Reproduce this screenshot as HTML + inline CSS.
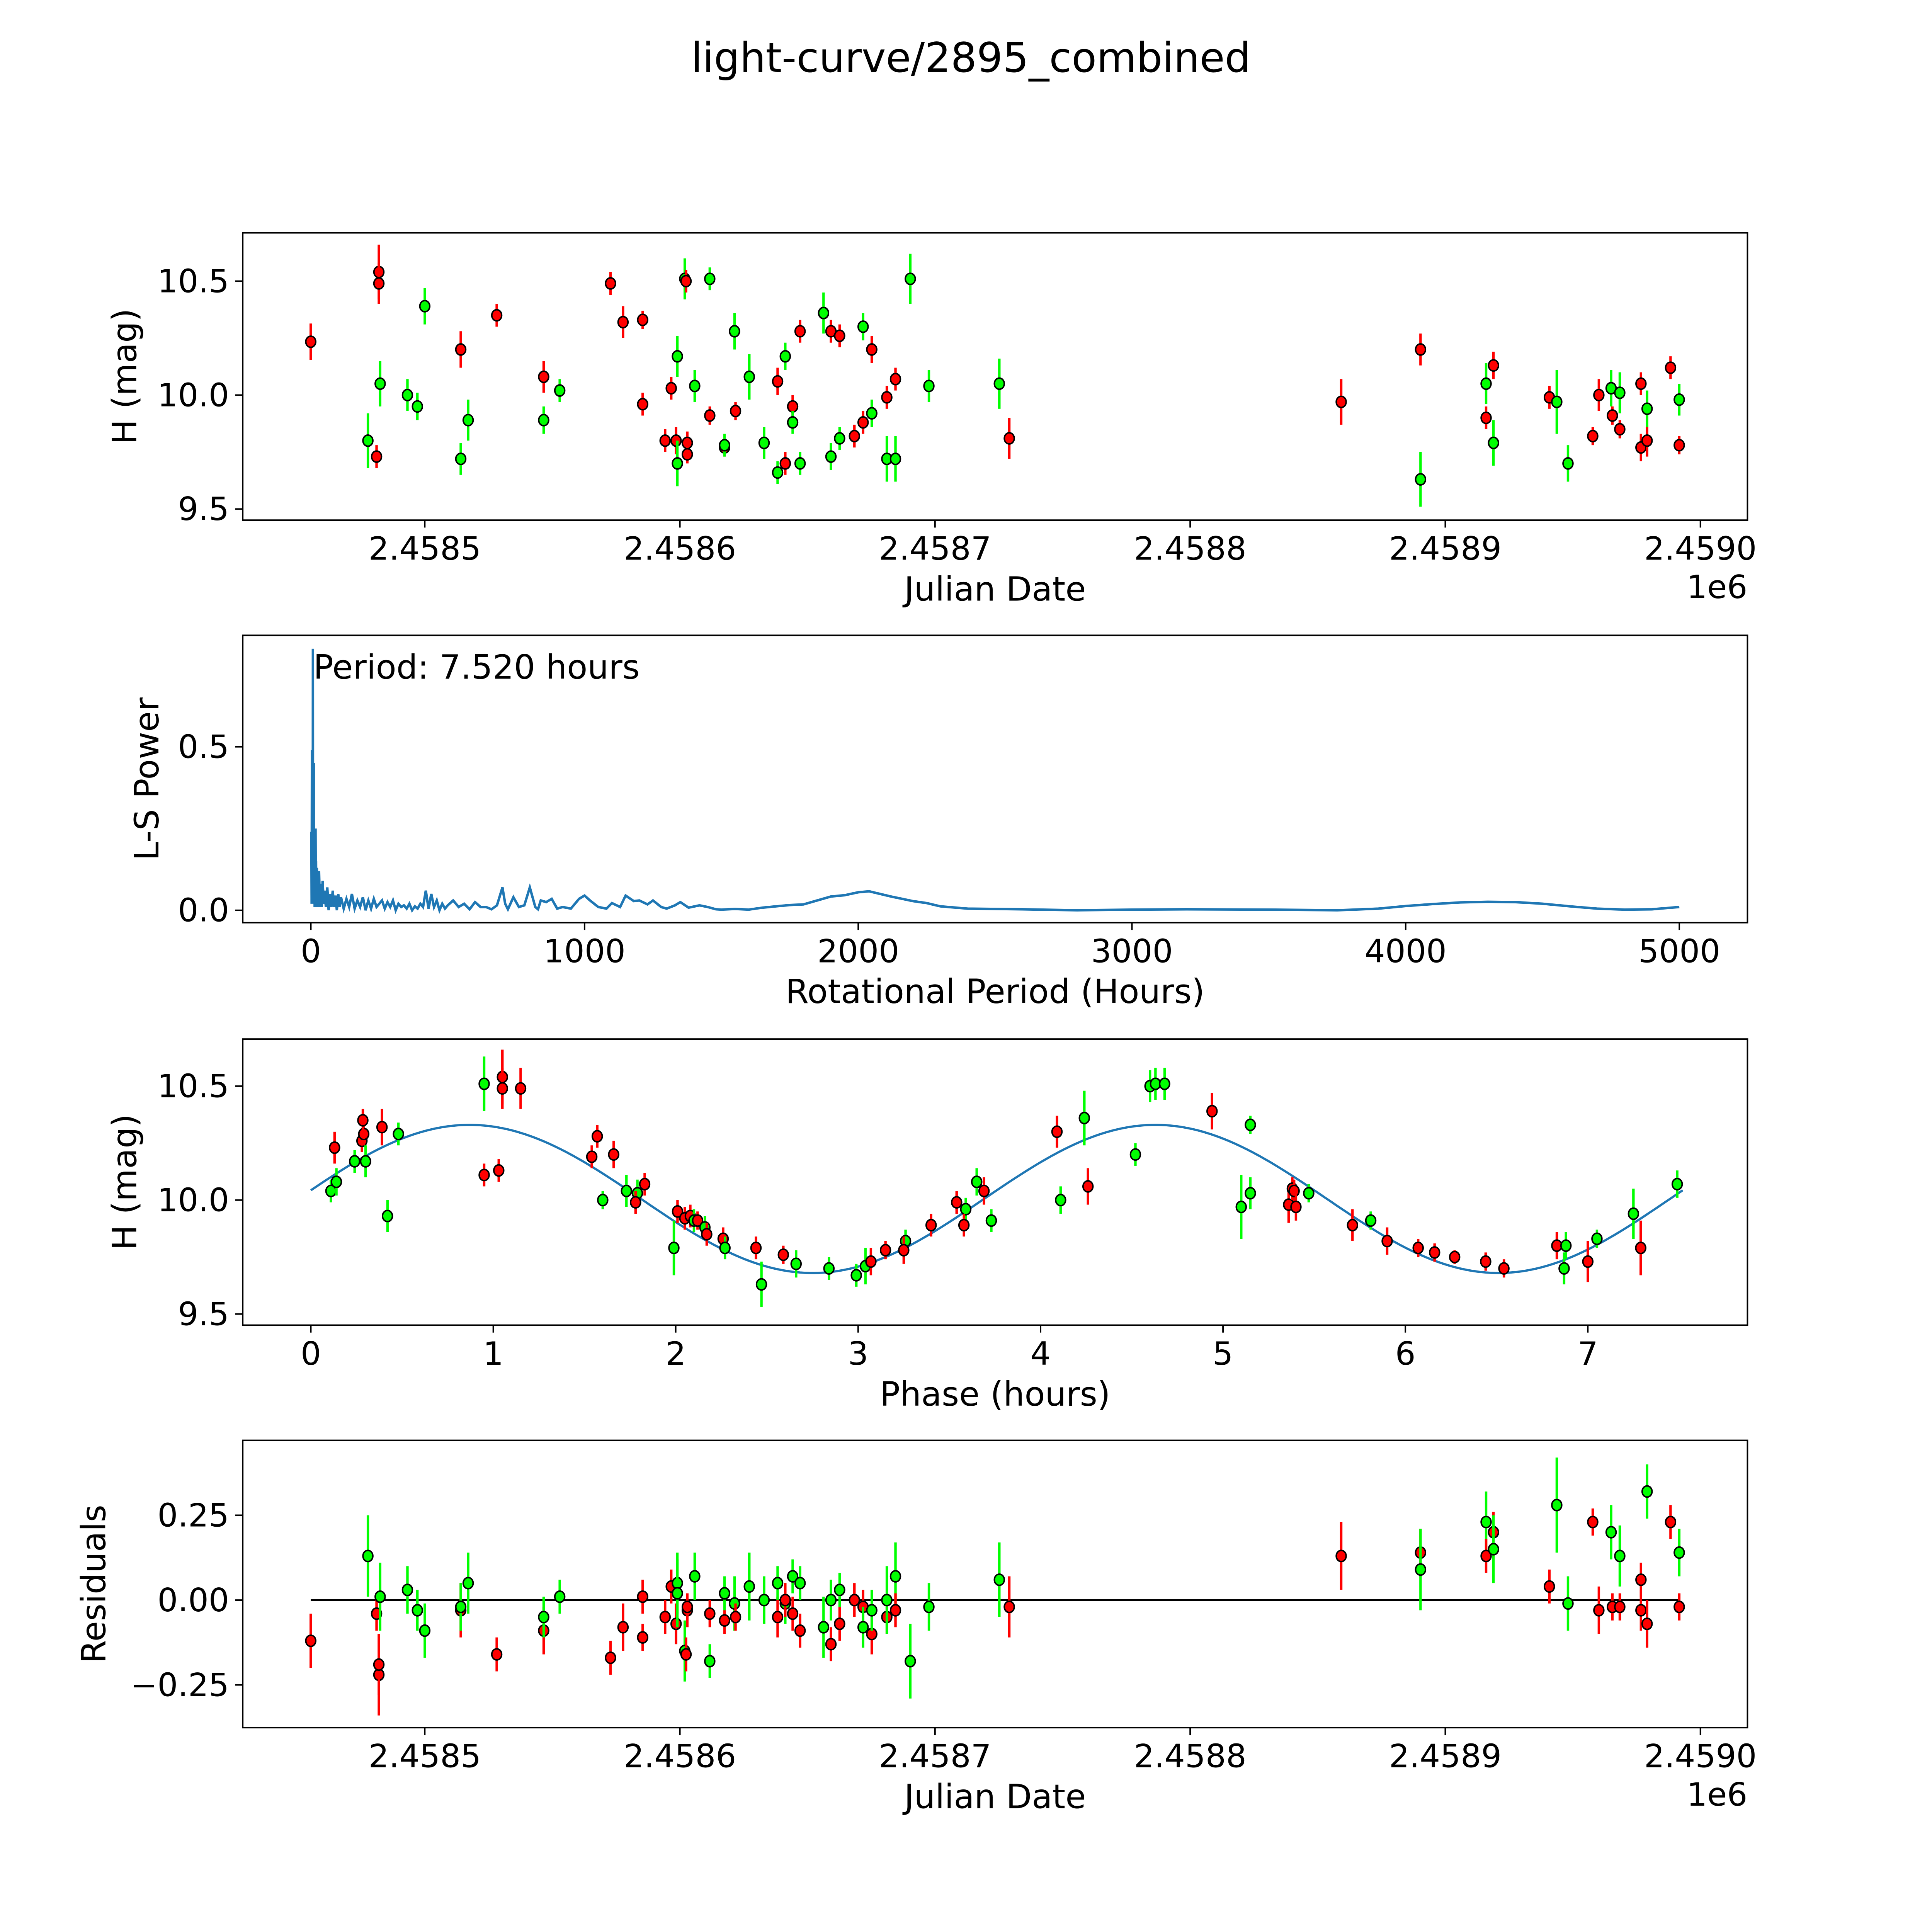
<!DOCTYPE html>
<html><head><meta charset="utf-8"><meta name="viewport" content="width=5400">
<style>
html,body{margin:0;padding:0;background:#fff;width:100vw;height:100vh;overflow:hidden}
svg{display:block;width:100vw;height:100vh}
text{font-family:"DejaVu Sans","Liberation Sans",sans-serif;fill:#000}
</style></head><body>
<svg id="fig" viewBox="0 0 1560 1560" preserveAspectRatio="xMinYMin meet" xmlns="http://www.w3.org/2000/svg">
<rect width="1560" height="1560" fill="#fff"/>
<text x="784" y="58" font-size="33" text-anchor="middle">light-curve/2895_combined</text>
<g id="p1"></g>
<g id="p2"></g>
<g id="p3"></g>
<g id="p4"></g>
</svg>
<script>
// ---- data: days after JD 2458500 ----
const jdDays=[-44.7,-22.3,-18.9,-18.0,-18.0,-17.5,-6.8,-2.9,0,14.1,14.1,17.0,28.2,46.6,46.6,52.9,72.8,77.7,85.4,85.4,94.2,96.6,98.5,99.0,99.0,101.9,102.4,102.9,102.9,105.8,111.7,111.7,117.5,117.5,121.4,121.8,127.2,133,138.3,138.3,141.3,141.3,144.2,144.2,147.1,147.1,156.3,159.2,159.2,162.6,162.6,168.4,171.8,171.8,175.2,175.2,181.1,181.1,184.5,184.5,190.3,197.6,225.2,229.1,359.2,390.3,390.3,416,416,418.9,418.9,440.8,443.7,448.1,457.8,460.2,465,465.5,468.4,468.4,476.7,476.7,479.1,479.1,488.3,491.7,491.7];
const mags=[10.234,9.80,9.73,10.54,10.49,10.05,10.00,9.95,10.39,10.20,9.72,9.89,10.35,10.08,9.89,10.02,10.49,10.32,10.33,9.96,9.80,10.03,9.80,10.17,9.70,10.51,10.50,9.79,9.74,10.04,10.51,9.91,9.77,9.78,10.28,9.93,10.08,9.79,10.06,9.66,10.17,9.70,9.95,9.88,9.70,10.28,10.36,10.28,9.73,10.26,9.81,9.82,9.88,10.30,10.20,9.92,9.99,9.72,9.72,10.07,10.51,10.04,10.05,9.81,9.97,10.20,9.63,10.05,9.90,10.13,9.79,9.99,9.97,9.70,9.82,10.00,10.03,9.91,10.01,9.85,10.05,9.77,9.80,9.94,10.12,9.98,9.78];
const filters="RGRRRGGGGRGGRRGGRRRRRRRGGGRRRGGRRGGRGGRGGRRGGRGRGRGRRGRGRGGRGGGRRRGGRRGRGGRRGRGRRRRGRGR";
const errs=[0.08,0.12,0.05,0.12,0.09,0.1,0.07,0.06,0.08,0.08,0.07,0.09,0.05,0.07,0.06,0.05,0.05,0.07,0.04,0.05,0.05,0.05,0.06,0.09,0.1,0.09,0.05,0.05,0.04,0.07,0.05,0.04,0.04,0.05,0.08,0.04,0.1,0.07,0.06,0.05,0.06,0.05,0.05,0.05,0.05,0.05,0.09,0.05,0.06,0.05,0.05,0.05,0.05,0.06,0.06,0.06,0.05,0.1,0.1,0.05,0.11,0.07,0.11,0.09,0.1,0.07,0.12,0.09,0.05,0.06,0.1,0.05,0.14,0.08,0.04,0.07,0.08,0.04,0.09,0.04,0.05,0.06,0.07,0.08,0.05,0.07,0.04];
const residuals=[-0.12,0.13,-0.04,-0.22,-0.19,0.01,0.03,-0.03,-0.09,-0.03,-0.02,0.05,-0.16,-0.09,-0.05,0.01,-0.17,-0.08,-0.11,0.01,-0.05,0.04,-0.07,0.05,0.02,-0.15,-0.16,-0.03,-0.02,0.07,-0.18,-0.04,-0.06,0.02,-0.01,-0.05,0.04,0.00,-0.05,0.05,-0.01,0.00,-0.04,0.07,0.05,-0.09,-0.08,-0.13,0.00,-0.07,0.03,0.00,-0.02,-0.08,-0.10,-0.03,-0.05,0.00,0.07,-0.03,-0.18,-0.02,0.06,-0.02,0.13,0.14,0.09,0.23,0.13,0.20,0.15,0.04,0.28,-0.01,0.23,-0.03,0.20,-0.02,0.13,-0.02,0.06,-0.03,-0.07,0.32,0.23,0.14,-0.02];
// phase panel
const phases=[0.11,0.14,0.13,0.24,0.28,0.29,0.285,0.30,0.39,0.42,0.48,0.95,0.95,1.05,1.05,1.03,1.15,1.54,1.57,1.6,1.66,1.73,1.79,1.78,1.83,2.01,1.99,2.05,2.08,2.1,2.12,2.16,2.17,2.26,2.27,2.44,2.47,2.59,2.66,2.84,2.99,3.04,3.07,3.15,3.26,3.25,3.40,3.54,3.59,3.58,3.65,3.69,3.73,4.09,4.11,4.24,4.26,4.52,4.6,4.63,4.68,4.94,5.15,5.1,5.15,5.36,5.38,5.39,5.4,5.47,5.71,5.81,5.9,6.07,6.16,6.27,6.44,6.54,6.83,6.88,6.87,7.0,7.05,7.25,7.29,7.49];
const phaseMags=[10.04,10.08,10.23,10.17,10.26,10.29,10.35,10.17,10.32,9.93,10.29,10.51,10.11,10.54,10.49,10.13,10.49,10.19,10.28,10.0,10.2,10.04,10.03,9.99,10.07,9.95,9.79,9.92,9.93,9.91,9.91,9.88,9.85,9.83,9.79,9.79,9.63,9.76,9.72,9.70,9.67,9.71,9.73,9.78,9.82,9.78,9.89,9.99,9.96,9.89,10.08,10.04,9.91,10.3,10.0,10.36,10.06,10.2,10.5,10.51,10.51,10.39,10.33,9.97,10.03,9.98,10.05,10.04,9.97,10.03,9.89,9.91,9.82,9.79,9.77,9.75,9.73,9.70,9.8,9.8,9.70,9.73,9.83,9.94,9.79,10.07];
const phaseFilters="GGRGRRRGRGGGRRRRRRRGRGGRRRGRRGRGRRGRGRGGGGRRGRRRGRGRGRGGRGGGGRGGGRRRRGRGRRRRRRRGGRGGR";
const phaseErrs=[0.05,0.06,0.07,0.05,0.05,0.05,0.05,0.07,0.08,0.07,0.05,0.12,0.05,0.12,0.09,0.05,0.09,0.05,0.05,0.04,0.06,0.07,0.06,0.05,0.05,0.05,0.12,0.05,0.05,0.05,0.04,0.05,0.05,0.05,0.05,0.05,0.1,0.04,0.06,0.05,0.05,0.08,0.06,0.04,0.05,0.06,0.05,0.05,0.05,0.05,0.06,0.06,0.05,0.07,0.06,0.12,0.08,0.05,0.07,0.07,0.07,0.08,0.04,0.14,0.07,0.08,0.05,0.05,0.06,0.04,0.07,0.04,0.06,0.04,0.04,0.03,0.04,0.04,0.06,0.06,0.07,0.09,0.04,0.11,0.12,0.06];
const fitMean=10.005, fitAmp=0.325, fitHalfPeriod=3.76, fitOffset=-0.07, periodHours=7.52;
// periodogram
const lsPeriods=[2,3,4,5,6,7,7.5,8,9,10,11,12,13,14,15,16,17,18,19,20,22,24,26,28,30,33,36,40,43,47,50,55,60,65,70,75,80,85,90,95,100,105,110,120,130,140,150,160,170,180,190,200,210,220,230,240,250,260,270,280,290,300,310,320,330,340,350,360,370,380,390,400,410,420,430,440,450,460,470,480,490,500,520,540,560,580,600,620,640,660,680,700,710,720,740,760,780,800,820,830,840,860,880,900,920,950,980,1000,1020,1050,1080,1100,1130,1150,1180,1200,1230,1250,1280,1300,1330,1350,1380,1420,1450,1480,1500,1550,1600,1650,1700,1750,1800,1850,1900,1950,2000,2040,2080,2120,2160,2200,2250,2300,2400,2500,2600,2800,3000,3200,3500,3750,3900,4000,4100,4200,4300,4400,4500,4600,4700,4800,4900,5000];
const lsPower=[0.24,0.02,0.49,0.05,0.25,0.02,0.80,0.1,0.3,0.02,0.45,0.05,0.24,0.01,0.2,0.03,0.25,0.02,0.15,0.01,0.13,0.01,0.1,0.02,0.12,0.01,0.08,0.01,0.09,0.02,0.06,0.01,0.07,0.0,0.05,0.01,0.06,0.01,0.045,0.0,0.05,0.01,0.04,0.005,0.035,0.01,0.05,0.005,0.03,0.01,0.04,0.0,0.03,0.005,0.035,0.01,0.02,0.03,0.005,0.025,0.01,0.03,0.0,0.02,0.01,0.015,0.005,0.02,0.0,0.012,0.005,0.02,0.01,0.06,0.005,0.05,0.01,0.03,0.0,0.02,0.005,0.015,0.03,0.01,0.02,0.003,0.025,0.01,0.01,0.003,0.015,0.07,0.02,0.003,0.04,0.01,0.015,0.07,0.01,0.003,0.03,0.025,0.035,0.005,0.01,0.005,0.035,0.045,0.03,0.01,0.005,0.022,0.01,0.045,0.028,0.03,0.018,0.03,0.01,0.005,0.015,0.025,0.008,0.015,0.01,0.003,0.002,0.004,0.002,0.008,0.012,0.016,0.018,0.03,0.042,0.046,0.055,0.058,0.05,0.042,0.035,0.028,0.022,0.012,0.005,0.004,0.003,0.0,0.002,0.003,0.002,0.0,0.005,0.013,0.019,0.024,0.026,0.025,0.02,0.012,0.005,0.002,0.003,0.01,0.018,0.027];
const jdTicks=[2.4585,2.4586,2.4587,2.4588,2.4589,2.4590];
const magTicks=[9.5,10.0,10.5];
const powTicks=[0.0,0.5];
const perTicks=[0,1000,2000,3000,4000,5000];
const phaseTicks=[0,1,2,3,4,5,6,7];
const resTicks=[-0.25,0.00,0.25];

const NS="http://www.w3.org/2000/svg";
function mk(parent,tag,attrs){const e=document.createElementNS(NS,tag);for(const k in attrs)e.setAttribute(k,attrs[k]);parent.appendChild(e);return e;}
const L=196,R=1411;
const xJD=d=>343+d*2.06;
const xJDtick=t=>xJD((t-2.4585)*1e6);
function lin(d0,d1,p0,p1){return v=>p0+(v-d0)*(p1-p0)/(d1-d0);}
function frame(g,top,bot,xt,xf,xfmt,yt,yf,yfmt,xlabel,ylabel,ylx,extra){
  const f=mk(g,'rect',{x:L,y:top,width:R-L,height:bot-top,fill:'none',stroke:'#000','stroke-width':1.2});
  
  xt.forEach(t=>{const x=xf(t);mk(g,'line',{x1:x,x2:x,y1:bot,y2:bot+6,stroke:'#000','stroke-width':1.2});
    const tx=mk(g,'text',{x:x,y:bot+32,'font-size':26,'text-anchor':'middle'});tx.textContent=xfmt(t);
    });
  yt.forEach(t=>{const y=yf(t);mk(g,'line',{x1:L-6,x2:L,y1:y,y2:y,stroke:'#000','stroke-width':1.2});
    const tx=mk(g,'text',{x:L-11,y:y+9,'font-size':26,'text-anchor':'end'});tx.textContent=yfmt(t);
    });
  const xl=mk(g,'text',{x:(L+R)/2,y:bot+65,'font-size':27,'text-anchor':'middle'});xl.textContent=xlabel;
  
  const cy=(top+bot)/2;
  const yl=mk(g,'text',{x:ylx,y:cy,'font-size':27,'text-anchor':'middle',transform:`rotate(-90 ${ylx} ${cy})`});yl.textContent=ylabel;
  
  if(extra){const o=mk(g,'text',{x:R,y:bot+63,'font-size':26,'text-anchor':'end'});o.textContent=extra;
    }
}
function pts(g,xs,ys,es,fl,xf,yf){
  xs.forEach((xv,i)=>{const x=xf(xv),y=yf(ys[i]);const c=fl[i]==='R'?'#ff0000':'#00ff00';
    const eb=mk(g,'line',{x1:x,x2:x,y1:yf(ys[i]+es[i]),y2:yf(ys[i]-es[i]),stroke:c,'stroke-width':2});
    
    const p=mk(g,'ellipse',{cx:x,cy:y,rx:4,ry:4.5,fill:c,stroke:'#000','stroke-width':1.2});
    });
}
const jdf=t=>t.toFixed(4);
const magf=t=>t.toFixed(1);
// Panel 1
{const g=document.getElementById('p1');const yf=lin(10,10.5,319,227);
 frame(g,188,420,jdTicks,xJDtick,jdf,magTicks,yf,magf,'Julian Date','H (mag)',110,'1e6');
 pts(g,jdDays,mags,errs,filters,xJD,yf);}
// Panel 2
{const g=document.getElementById('p2');const xf=lin(0,5000,251,1356),yf=lin(0,0.5,735,603);
 frame(g,513,745,perTicks,xf,t=>String(t),powTicks,yf,t=>t.toFixed(1),'Rotational Period (Hours)','L-S Power',128);
 let d='';lsPeriods.forEach((p,i)=>{d+=(i?'L':'M')+xf(p).toFixed(2)+' '+yf(lsPower[i]).toFixed(2);});
 const pl=mk(g,'path',{d:d,fill:'none',stroke:'#1f77b4','stroke-width':2});
 
 const t=mk(g,'text',{x:253,y:548,'font-size':27});t.textContent='Period: '+periodHours.toFixed(3)+' hours';
 }
// Panel 3
{const g=document.getElementById('p3');const xf=lin(0,1,251,398.3),yf=lin(10,10.5,969,877);
 frame(g,839,1070,phaseTicks,xf,t=>String(t),magTicks,yf,magf,'Phase (hours)','H (mag)',110);
 let d='';for(let i=0;i<=300;i++){const p=periodHours*i/300;const m=fitMean+fitAmp*Math.sin(2*Math.PI*(p-fitOffset)/fitHalfPeriod);d+=(i?'L':'M')+xf(p).toFixed(2)+' '+yf(m).toFixed(2);}
 const fl=mk(g,'path',{d:d,fill:'none',stroke:'#1f77b4','stroke-width':1.8});
 
 pts(g,phases,phaseMags,phaseErrs,phaseFilters,xf,yf);}
// Panel 4
{const g=document.getElementById('p4');const yf=lin(0,0.25,1292,1223.5);
 frame(g,1163,1395,jdTicks,xJDtick,jdf,resTicks,yf,t=>(t<0?'\u22120.25':t.toFixed(2)),'Julian Date','Residuals',85,'1e6');
 const zl=mk(g,'line',{x1:xJD(Math.min(...jdDays)),x2:xJD(Math.max(...jdDays)),y1:yf(0),y2:yf(0),stroke:'#000','stroke-width':1.6});
 
 pts(g,jdDays,residuals,errs,filters,xJD,yf);}
</script>
</body></html>
